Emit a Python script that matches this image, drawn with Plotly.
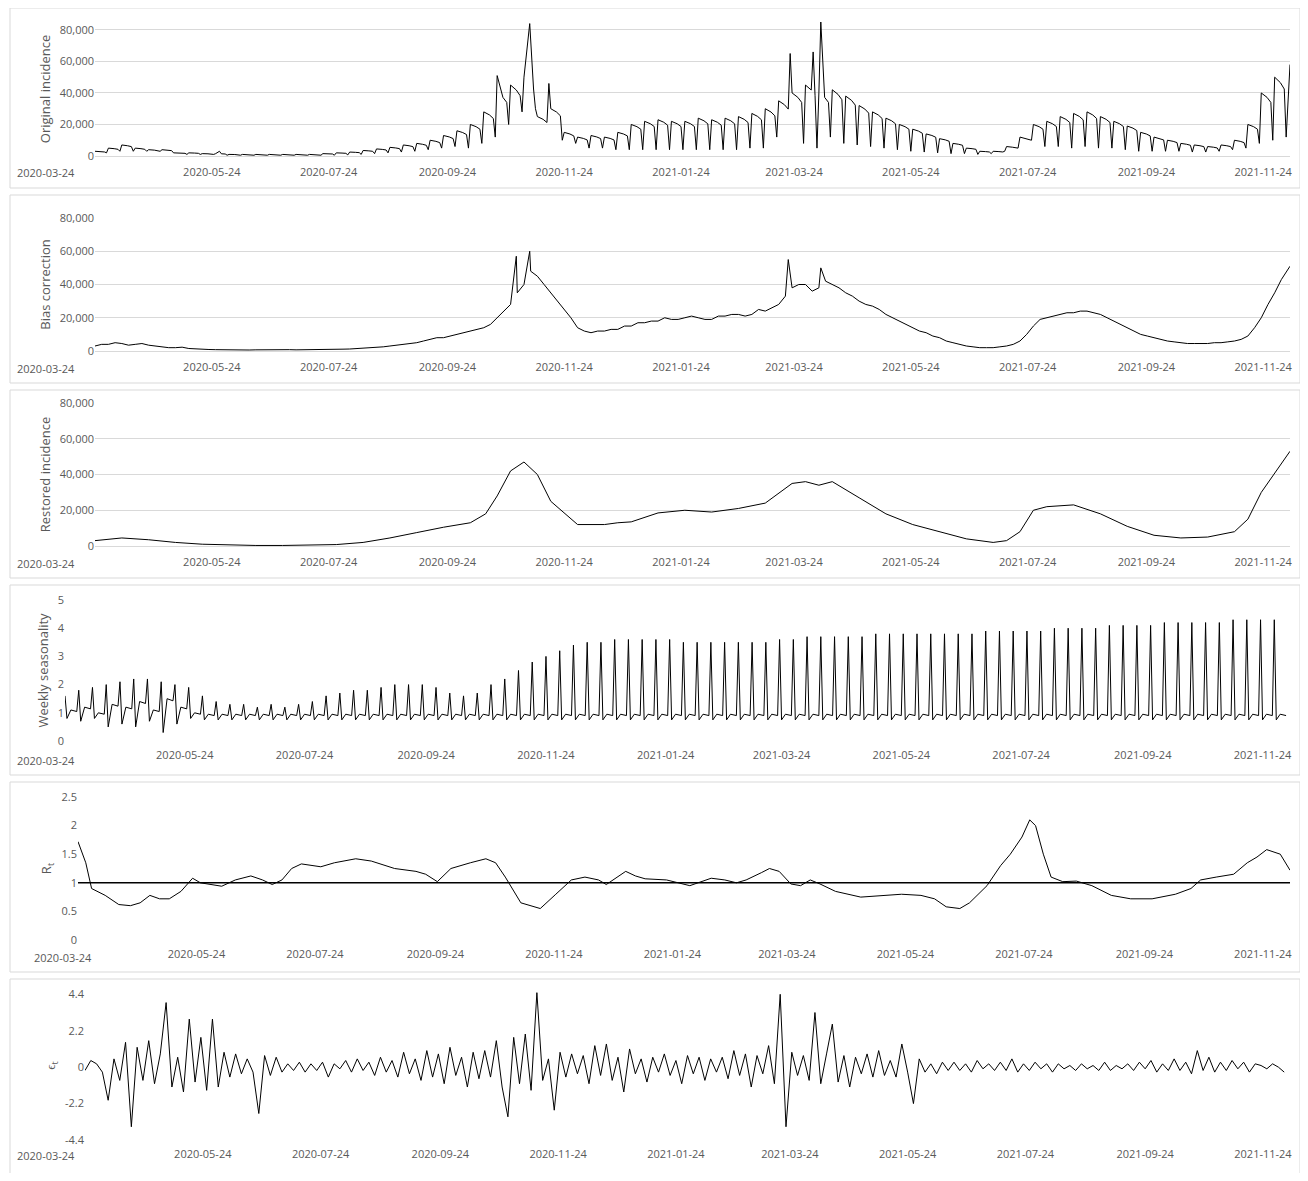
import plotly.graph_objects as go
import pandas as pd

START = pd.Timestamp("2020-03-24")
TICKS = ["2020-03-24","2020-05-24","2020-07-24","2020-09-24","2020-11-24","2021-01-24",
         "2021-03-24","2021-05-24","2021-07-24","2021-09-24","2021-11-24"]

# Panel 1: original incidence (thousands), weekly plateau and weekly dip
orig_top = [3,5,7,5,4,4,2,2,1.5,1.5, 1,1,1,1,1,1,1,1.5,2,2.5,
            3.5,4.5,5.5,7,8,10,13,16,20,28, 40,45,50,25,30,15,12,13,12,15,
            20,22,23,22,22,24,23,24,25,27, 30,35,40,45,40,42,38,32,28,24,
            20,17,14,11,8,5,3,3,6,12, 20,22,25,27,28,25,22,19,15,12,
            10,8,7,6,7,10,20,40,50]
orig_dip = [2,3,3,3,3,2,1,1,1,0.5, 0.5,0.5,0.5,0.5,0.5,0.5,0.5,0.5,0.7,1,
            1.5,2,2.5,3,4,5,6,5,8,12, 20,28,30,18,10,8,5,5,4,4,
            4,4,4,4,4,4,4,4,5,5, 12,10,8,5,12,8,7,6,5,4,
            3,2.5,2,1.5,1.5,1,1.5,3,5,10, 6,6,5,6,5,5,4,3,3,3,
            3,2.5,2.5,3,4,5,8,10,12]
orig_spike_day = [65,210,227,237,363,375,379,624]
orig_spike_val = [3,51,84,46,65,66,85,58]

# Panel 2: bias correction (thousands), two readings per week
bias_a = [3,4,4.5,4,3.5,2.5,2,1.5,1,0.8, 0.8,0.7,0.7,0.7,0.7,0.7,0.8,0.9,1,1.2,
          1.5,2,3,4,5,7,8,10,12,14, 20,28,40,45,35,25,14,11,12,13,
          15,17,18,19,20,20,19,21,22,22, 24,28,38,40,38,40,35,30,27,22,
          18,14,11,8,5,3,2,2,3,6, 15,20,22,23,24,22,18,14,10,8,
          6,5,4.5,4.5,5,6,9,20,35]
bias_b = [4,5,3.5,4.5,3,2,2.3,1.2,0.9,0.7, 0.9,0.6,0.8,0.6,0.8,0.7,0.9,1,1.1,1.4,
          1.8,2.5,3.5,4.5,6,8,9,11,13,16, 24,35,48,40,30,20,12,12,13,15,
          17,18,20,19,21,19,21,22,21,25, 26,33,40,36,42,38,33,28,25,20,
          16,12,9,6,4,2.5,2,2.5,4,10, 19,21,23,24,23,20,16,12,9,7,
          5.5,4.5,4.5,5,5.5,7,14,28,43]
bias_spike_day = [220,227,362,379,624]
bias_spike_val = [57,60,55,50,51]

# Panel 3: restored incidence (thousands)
rest_day = [0,14,28,42,56,70,84,98,112,126,140,154,168,182,196,204,210,217,224,231,238,252,
            266,273,280,294,308,322,336,350,364,371,378,385,399,413,427,441,455,469,476,483,
            490,497,511,525,539,553,567,581,595,602,609,624]
rest_val = [3,4.5,3.5,2,1,0.5,0.3,0.3,0.4,0.8,2,4.5,7.5,10.5,13,18,28,42,47,40,25,12,
            12,13,13.5,18.5,20,19,21,24,35,36,34,36,27,18,12,8,4,2,3,8,
            20,22,23,18,11,6,4.5,5,8,15,30,53]

# Panel 4: weekly seasonality
seas_peak = [1.6,1.8,1.9,2.0,2.1,2.2,2.2,2.1,2.0,1.9, 1.6,1.4,1.3,1.3,1.2,1.3,1.2,1.3,1.4,1.6,
             1.7,1.8,1.8,1.9,2.0,2.0,2.0,1.9,1.7,1.6, 1.7,2.0,2.2,2.5,2.8,3.0,3.2,3.4,3.5,3.5,
             3.6,3.6,3.6,3.6,3.6,3.5,3.5,3.5,3.5,3.5, 3.5,3.5,3.6,3.6,3.7,3.7,3.7,3.7,3.7,3.8,
             3.8,3.8,3.8,3.8,3.8,3.8,3.8,3.9,3.9,3.9, 3.9,3.9,4.0,4.0,4.0,4.0,4.1,4.1,4.1,4.1,
             4.2,4.2,4.2,4.2,4.2,4.3,4.3,4.3,4.3]
seas_dip = [0.8,0.7,0.8,0.5,0.6,0.5,0.7,0.3,0.6,0.8] + [0.75]*79
seas_mid = [1.1,1.2,1.0,1.3,1.2,1.4,1.1,1.5,1.2,1.0] + [0.95]*79

# Panel 5: R_t
r_day = [0,4,7,14,21,27,32,37,42,47,53,59,63,69,74,81,89,95,100,105,110,115,125,132,143,151,163,
         174,179,185,192,202,210,215,220,228,238,246,254,261,268,272,277,282,287,292,303,315,326,
         333,339,344,352,356,361,367,372,377,382,390,403,413,424,434,441,447,454,459,468,475,480,
         486,490,493,497,501,507,514,522,532,542,553,565,573,578,586,595,602,607,612,619,624]
r_val = [1.72,1.35,0.9,0.78,0.62,0.6,0.65,0.78,0.72,0.72,0.85,1.08,1.0,0.97,0.94,1.05,1.12,1.05,
         0.97,1.05,1.25,1.33,1.28,1.35,1.42,1.38,1.25,1.2,1.15,1.02,1.25,1.35,1.42,1.35,1.1,0.65,
         0.55,0.8,1.05,1.1,1.05,0.97,1.08,1.2,1.12,1.07,1.05,0.95,1.08,1.05,1.0,1.05,1.18,1.25,1.2,
         0.98,0.95,1.05,0.98,0.85,0.75,0.77,0.8,0.78,0.72,0.58,0.55,0.65,0.95,1.3,1.5,1.8,2.1,2.0,
         1.5,1.1,1.02,1.03,0.95,0.78,0.72,0.72,0.8,0.9,1.05,1.1,1.15,1.35,1.45,1.58,1.5,1.22]

# Panel 6: epsilon_t (every 3 days)
eps = [-0.2,0.4,0.2,-0.3,-2.0,0.5,-0.8,1.5,-3.6,1.2, -0.8,1.6,-1.0,0.8,3.9,-1.2,0.6,-1.5,2.9,-0.9,
       1.8,-1.4,2.9,-1.2,0.9,-0.6,0.8,-0.4,0.5,-0.3, -2.8,0.7,-0.5,0.6,-0.3,0.2,-0.2,0.3,-0.3,0.2,
       -0.2,0.3,-0.6,0.2,-0.1,0.4,-0.3,0.5,-0.2,0.3, -0.5,0.6,-0.3,0.4,-0.6,0.9,-0.4,0.5,-0.8,1.0,
       -0.6,0.8,-1.0,1.2,-0.5,0.6,-1.2,0.9,-0.7,1.0, -0.6,1.6,-1.2,-3.0,1.8,-1.0,2.0,-1.4,4.5,-0.8,
       0.5,-2.6,0.9,-0.6,0.8,-0.4,0.7,-1.0,1.3,-0.5, 1.4,-0.8,0.6,-1.5,1.1,-0.4,0.5,-0.9,0.6,-0.3,
       0.8,-0.5,0.4,-1.0,0.7,-0.4,0.6,-0.8,0.5,-0.3, 0.6,-0.7,1.0,-0.5,0.8,-1.2,0.7,-0.4,1.3,-1.0,
       4.4,-3.6,0.9,-0.5,0.7,-0.8,3.3,-1.0,0.8,2.6, -0.9,0.7,-1.2,0.6,-0.4,0.8,-0.6,1.0,-0.5,0.4,
       -0.6,1.4,-0.3,-2.2,0.5,-0.3,0.2,-0.4,0.3,-0.2, 0.3,-0.2,0.2,-0.3,0.4,-0.1,0.2,-0.2,0.3,-0.2,
       0.5,-0.3,0.2,-0.2,0.3,-0.1,0.2,-0.3,0.2,-0.1, 0.1,-0.2,0.2,-0.1,0.1,-0.2,0.3,-0.2,0.1,-0.1,
       0.2,-0.2,0.3,-0.1,0.4,-0.3,0.2,-0.2,0.5,-0.2, 0.3,-0.4,1.0,-0.2,0.6,-0.3,0.3,-0.2,0.4,-0.1,
       0.3,-0.3,0.2,0.1,-0.1,0.2,0.0,-0.3]

def d(days):
    return [START + pd.Timedelta(days=float(x)) for x in days]

def merge(pts):
    pts = sorted(pts)
    return d([p[0] for p in pts]), [p[1] * 1000 for p in pts]

p1 = []
for k, (t, dp) in enumerate(zip(orig_top, orig_dip)):
    p1 += [(7*k, t), (7*k+3, t*0.93), (7*k+5, t*0.85), (7*k+6, dp)]
p1 = [p for p in p1 if p[0] not in orig_spike_day]
p1 += list(zip(orig_spike_day, orig_spike_val))
x1, y1 = merge(p1)

p2 = []
for k, (a, b) in enumerate(zip(bias_a, bias_b)):
    p2 += [(7*k, a), (7*k+3.5, b)]
p2 += list(zip(bias_spike_day, bias_spike_val))
x2, y2 = merge(p2)

x3, y3 = d(rest_day), [v*1000 for v in rest_val]

x4, y4 = [], []
for k, (pk, dp, md) in enumerate(zip(seas_peak, seas_dip, seas_mid)):
    x4 += d([7*k, 7*k+1, 7*k+3, 7*k+6]); y4 += [pk, dp, md, md*0.95]

x5, y5 = d(r_day), r_val
x6, y6 = d([3*i for i in range(len(eps))]), eps

OFF = 8  # page body margin
W, H = 1308 - 2*OFF, 1181 - 2*OFF
def px(x): return (x - OFF) / W
def py(y): return 1 - (y - OFF) / H

GRAY = "#595959"; GRID = "#d9d9d9"
FONT = "Open Sans"

panels = [
    (x1, y1, "Original incidence", [0, 85000], 22, 156, 95, 15, 172, dict(dtick=20000, tickformat=","), True),
    (x2, y2, "Bias correction", [0, 80000], 218, 351, 95, 15, 368, dict(dtick=20000, tickformat=","), True),
    (x3, y3, "Restored incidence", [0, 80000], 403, 546, 95, 15, 563, dict(dtick=20000, tickformat=","), True),
    (x4, y4, "Weekly seasonality", [0, 5], 600, 741, 65, 15, 760, dict(dtick=1), False),
    (x5, y5, "R<sub>t</sub>", [0, 2.5], 797, 940, 78, 32, 957, dict(dtick=0.5), False),
    (x6, y6, "ϵ<sub>t</sub>", [-4.4, 4.6], 991, 1140, 85, 15, 1155, dict(tickvals=[-4.4,-2.2,0,2.2,4.4], ticktext=["-4.4","-2.2","0","2.2","4.4"]), False),
]
boxes = [(8,188),(195,383),(390,578),(585,775),(782,972),(979,1176)]

fig = go.Figure()
layout = {}
annots = []
for i, (xs, ys, title, yr, top, bot, left, lab_x, lab_y, yt, grid) in enumerate(panels, start=1):
    sfx = "" if i == 1 else str(i)
    fig.add_trace(go.Scatter(x=xs, y=ys, mode="lines", line=dict(color="black", width=1),
                             xaxis="x"+sfx, yaxis="y"+sfx, showlegend=False, hoverinfo="skip"))
    layout["xaxis"+sfx] = dict(domain=[px(left), px(1290)], anchor="y"+sfx, type="date",
                               range=[START, START + pd.Timedelta(days=624)],
                               tickvals=TICKS[1:], ticktext=TICKS[1:], showgrid=False,
                               showline=grid, linecolor=GRID, ticks="", automargin=False,
                               ticklabelstandoff=6,
                               tickfont=dict(family=FONT, size=11, color=GRAY), zeroline=False)
    layout["yaxis"+sfx] = dict(domain=[py(bot), py(top)], anchor="x"+sfx, range=yr,
                               showgrid=grid, gridcolor=GRID, zeroline=False, showline=False,
                               automargin=False,
                               tickfont=dict(family=FONT, size=11, color=GRAY),
                               title=dict(text=title, font=dict(family=FONT, size=13, color=GRAY), standoff=6),
                               **yt)
    annots.append(dict(text=TICKS[0], xref="paper", yref="paper", x=px(lab_x), y=py(lab_y),
                       xanchor="left", yanchor="middle", showarrow=False,
                       font=dict(family=FONT, size=11, color=GRAY)))
fig.update_layout(**layout)

shapes = []
for (t, b) in boxes:
    shapes.append(dict(type="rect", xref="paper", yref="paper", x0=px(10), x1=px(1300),
                       y0=py(b), y1=py(t), line=dict(color=GRID, width=1)))
shapes.append(dict(type="line", xref="x5 domain", yref="y5", x0=0, x1=1, y0=1, y1=1,
                   line=dict(color="black", width=1.5)))
fig.update_layout(shapes=shapes, annotations=annots, width=W, height=H,
                  margin=dict(l=0, r=0, t=0, b=0),
                  plot_bgcolor="white", paper_bgcolor="white")
fig.write_html("out.html")
